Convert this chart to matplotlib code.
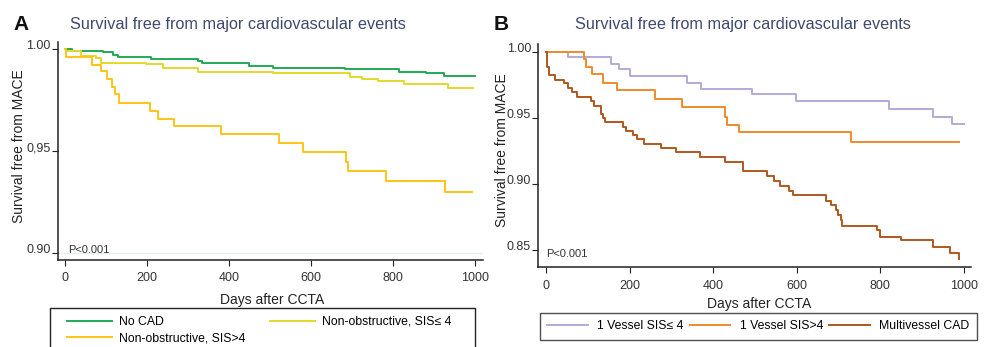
import matplotlib
matplotlib.use('Agg')
import matplotlib.pyplot as plt
from matplotlib.patches import Rectangle

plt.rcParams['font.family'] = ['Liberation Sans', 'DejaVu Sans']

# Panel A data (Kaplan-Meier steps)
nocad_t = [0, 18, 93, 118, 130, 211, 325, 335, 449, 507, 683, 815, 880, 925, 1000]
nocad_s = [1.000, 0.9993, 0.9985, 0.9972, 0.9964, 0.9952, 0.9944, 0.9931, 0.9920,
           0.9907, 0.9901, 0.9890, 0.9882, 0.9870, 0.9870]

low_t = [0, 3, 39, 77, 89, 199, 240, 325, 507, 695, 725, 764, 828, 935, 996]
low_s = [1.000, 0.9992, 0.9967, 0.9956, 0.9934, 0.9926, 0.9907, 0.9890, 0.9882,
         0.9866, 0.9853, 0.9843, 0.9828, 0.9810, 0.9810]

high_t = [0, 2, 65, 89, 103, 114, 122, 132, 207, 228, 266, 380, 523, 581, 686, 691,
          783, 928, 994]
high_s = [1.000, 0.9961, 0.9923, 0.9891, 0.9855, 0.9814, 0.9779, 0.9735, 0.9698,
          0.9658, 0.9621, 0.9583, 0.9539, 0.9497, 0.9448, 0.9400, 0.9351, 0.9298, 0.9298]

# Panel B data
v1low_t = [0, 51, 154, 174, 200, 338, 370, 492, 599, 820, 925, 972, 1001]
v1low_s = [1.000, 0.9962, 0.9912, 0.9869, 0.9819, 0.9768, 0.9718, 0.9680, 0.9627,
           0.9567, 0.9508, 0.9451, 0.9451]

v1high_t = [0, 90, 95, 109, 136, 170, 261, 324, 429, 432, 461, 730, 988]
v1high_s = [1.000, 0.9945, 0.9888, 0.9831, 0.9768, 0.9710, 0.9642, 0.9584, 0.9506,
            0.9446, 0.9395, 0.9316, 0.9316]

multi_t = [0, 1, 2.5, 6.5, 21, 42, 53, 61, 73, 107, 115, 130, 135, 141, 183, 191, 207,
           216, 235, 274, 310, 368, 428, 472, 528, 546, 560, 581, 591, 670, 682, 693,
           698, 706, 709, 793, 799, 849, 927, 967, 988]
multi_s = [1.000, 0.9960, 0.9887, 0.9824, 0.9786, 0.9761, 0.9723, 0.9698, 0.9660,
           0.9630, 0.9592, 0.9530, 0.9501, 0.9471, 0.9433, 0.9403, 0.9367, 0.9337,
           0.9304, 0.9270, 0.9239, 0.9201, 0.9164, 0.9098, 0.9062, 0.9024, 0.8987,
           0.8949, 0.8916, 0.8874, 0.8840, 0.8803, 0.8765, 0.8727, 0.8682, 0.8652,
           0.8601, 0.8571, 0.8518, 0.8475, 0.8430]

xticks = [0, 200, 400, 600, 800, 1000]
yticks_a = [0.90, 0.95, 1.00]
ylabels_a = ['0.90', '0,95', '1.00']
yticks_b = [0.85, 0.90, 0.95, 1.00]
ylabels_b = ['0.85', '0.90', '0.95', '1.00']

title_col = '#3d4a6c'
txt_col = '#333333'

W, H = 988, 347
fig = plt.figure(figsize=(9.88, 3.47), dpi=100)


def style(ax, xpad):
    for s in ['top', 'right']:
        ax.spines[s].set_visible(False)
    for s in ['left', 'bottom']:
        ax.spines[s].set_linewidth(1.1)
        ax.spines[s].set_color('#222222')
    ax.tick_params(direction='out', length=4, width=0.8, labelsize=9,
                   labelcolor=txt_col, color='#222222', pad=1)
    ax.tick_params(axis='x', pad=xpad)
    ax.set_xticks(xticks)
    for lab in ax.get_yticklabels():
        lab.set_va('baseline')


# ---- panel A
axA = fig.add_axes([0.0582, 0.2507, 0.4307, 0.628])
axA.axhline(0.90, color='#e2f1f0', lw=1, zorder=0)
axA.step(nocad_t, nocad_s, where='post', color='#22aa55', lw=1.4, label='No CAD')
axA.step(low_t, low_s, where='post', color='#e3d82c', lw=1.4,
         label='Non-obstructive, SIS\u2264 4')
axA.step(high_t, high_s, where='post', color='#ffc414', lw=1.4,
         label='Non-obstructive, SIS>4')
axA.set_xlim(-18, 1020)
axA.set_ylim(0.8965, 1.0035)
axA.set_yticks(yticks_a)
axA.set_yticklabels(ylabels_a)
style(axA, 4.5)
axA.set_ylabel('Survival free from MACE', fontsize=10, color='#222222')
axA.yaxis.set_label_coords(-0.073, 0.523)
axA.set_xlabel('Days after CCTA', fontsize=10, color='#222222')
axA.xaxis.set_label_coords(0.504, -0.151)
axA.text(0.026, 0.045, 'P<0.001', transform=axA.transAxes, fontsize=8,
         color=txt_col, va='center')

# legend A: box runs off the bottom edge of the figure
fig.patches.append(Rectangle((50 / W, -0.05), 425 / W, (H - 308) / H + 0.05,
                             transform=fig.transFigure, fill=False,
                             edgecolor='#222222', lw=1.0))
hA, lA = axA.get_legend_handles_labels()
fig.legend([hA[0], hA[2], hA[1]], [lA[0], lA[2], lA[1]], ncol=2,
           loc='upper left', bbox_to_anchor=(67 / W, 1 - 316 / H),
           fontsize=8.8, handlelength=3.7, frameon=False, borderpad=0,
           borderaxespad=0, labelspacing=0.35, handletextpad=0.55,
           columnspacing=2.0)

# ---- panel B
axB = fig.add_axes([0.5445, 0.2305, 0.4383, 0.6427])
axB.step(v1low_t, v1low_s, where='post', color='#b8a9d8', lw=1.4,
         label='1 Vessel SIS\u2264 4')
axB.step(v1high_t, v1high_s, where='post', color='#f08a2c', lw=1.4,
         label='1 Vessel SIS>4')
axB.step(multi_t, multi_s, where='post', color='#b0581e', lw=1.4,
         label='Multivessel CAD')
axB.set_xlim(-20, 1017)
axB.set_ylim(0.837, 1.006)
axB.set_yticks(yticks_b)
axB.set_yticklabels(ylabels_b)
style(axB, 5.5)
axB.set_ylabel('Survival free from MACE', fontsize=10, color='#222222')
axB.yaxis.set_label_coords(-0.068, 0.525)
axB.set_xlabel('Days after CCTA', fontsize=10, color='#222222')
axB.xaxis.set_label_coords(0.51, -0.135)
axB.text(0.018, 0.06, 'P<0.001', transform=axB.transAxes, fontsize=8,
         color=txt_col, va='center')

legB = fig.legend(*axB.get_legend_handles_labels(), ncol=3, loc='upper left',
                  bbox_to_anchor=(540 / W, 1 - 339 / H, 437 / W, 26 / H),
                  mode='expand', fontsize=8.8, handlelength=3.3, frameon=True,
                  fancybox=False, edgecolor='#222222', borderpad=0.6,
                  borderaxespad=0, handletextpad=0.8, columnspacing=0.2)
legB.get_frame().set_linewidth(1.0)

# ---- titles
fig.text(238 / W, 1 - 25 / H, 'Survival free from major cardiovascular events',
         ha='center', va='center', fontsize=11.7, color=title_col)
fig.text(743 / W, 1 - 25 / H, 'Survival free from major cardiovascular events',
         ha='center', va='center', fontsize=11.7, color=title_col)
fig.text(13 / W, 1 - 25 / H, 'A', ha='left', va='center', fontsize=15,
         fontweight='bold', color='#111111')
fig.text(494 / W, 1 - 25 / H, 'B', ha='left', va='center', fontsize=15,
         fontweight='bold', color='#111111')

fig.savefig('out.png', dpi=100)
